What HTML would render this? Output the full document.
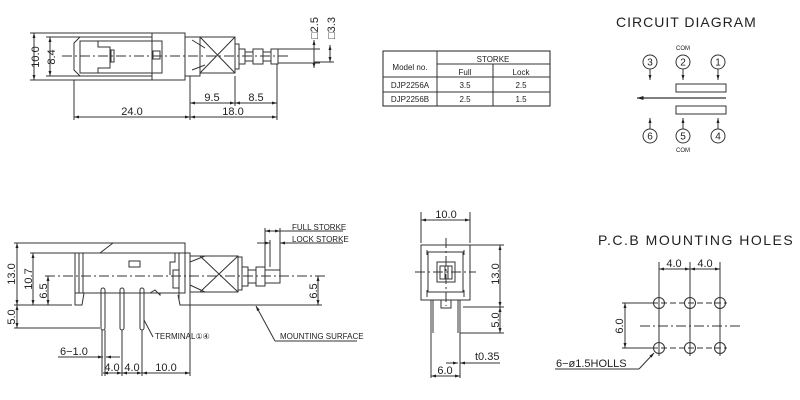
<!DOCTYPE html>
<html><head><style>
html,body{margin:0;padding:0;background:#fff;}
svg{display:block;font-family:"Liberation Sans",sans-serif;}
text{fill:#222;}
</style></head><body>
<svg width="800" height="400" viewBox="0 0 800 400" xmlns="http://www.w3.org/2000/svg">
<defs>
<marker id="a" viewBox="0 0 10 10" refX="10" refY="5" markerWidth="5" markerHeight="5" orient="auto-start-reverse"><path d="M0,2 L10,5 L0,8z" fill="#222"/></marker>
</defs>
<g stroke="#333" stroke-width="1" fill="none">
<!-- TOP VIEW -->
<line x1="30" y1="33" x2="152" y2="33"/><line x1="30" y1="80" x2="152" y2="80"/>
<line x1="34" y1="33" x2="34" y2="80" marker-start="url(#a)" marker-end="url(#a)"/>
<line x1="46" y1="37" x2="80" y2="37"/><line x1="46" y1="76" x2="80" y2="76"/>
<line x1="50" y1="37" x2="50" y2="76" marker-start="url(#a)" marker-end="url(#a)"/>
<path d="M80,37 L152,37 L152,76 L80,76 L74,70 L74,43 Z"/>
<rect x="80" y="41" width="82" height="32"/>
<path d="M98,41 L98,47 L110,47 L110,68 L98,68 L98,73"/>
<rect x="111" y="50" width="3" height="12"/>
<rect x="152" y="33" width="33" height="47"/>
<rect x="153" y="51" width="7" height="8"/>
<path d="M185,37 L200,37 L200,76 L185,76"/>
<path d="M200,37 L235,37 L235,73 L200,73 Z M200,37 L235,73 M235,37 L200,73"/>
<path d="M192,40 L205,48 M192,70 L205,65"/>
<rect x="235" y="44" width="4" height="25"/>
<rect x="239" y="49" width="6" height="15"/>
<rect x="245" y="52" width="8" height="9"/>
<rect x="253" y="49" width="10" height="15"/>
<rect x="263" y="52" width="8" height="9"/>
<rect x="271" y="49" width="7" height="15"/>
<line x1="278" y1="49" x2="320" y2="49"/><line x1="278" y1="63" x2="320" y2="63"/>
<line x1="62" y1="56" x2="290" y2="56" stroke-dasharray="10,3,2,3"/>
<line x1="314" y1="40" x2="314" y2="68" marker-start="url(#a)" marker-end="url(#a)"/>
<line x1="330" y1="45" x2="330" y2="62" marker-start="url(#a)" marker-end="url(#a)"/>
<line x1="314" y1="62" x2="334" y2="62"/>
<line x1="74" y1="80" x2="74" y2="120"/>
<line x1="190" y1="76" x2="190" y2="120"/>
<line x1="235" y1="76" x2="235" y2="106"/>
<line x1="277" y1="64" x2="277" y2="120"/>
<line x1="190" y1="103" x2="235" y2="103" marker-start="url(#a)" marker-end="url(#a)"/>
<line x1="235" y1="103" x2="277" y2="103" marker-start="url(#a)" marker-end="url(#a)"/>
<line x1="74" y1="117" x2="190" y2="117" marker-start="url(#a)" marker-end="url(#a)"/>
<line x1="190" y1="117" x2="277" y2="117" marker-start="url(#a)" marker-end="url(#a)"/>

<!-- TABLE -->
<rect x="383" y="51" width="167" height="55" stroke="#222"/>
<line x1="437" y1="64" x2="550" y2="64"/><line x1="383" y1="77" x2="550" y2="77"/>
<line x1="383" y1="92" x2="550" y2="92"/>
<line x1="437" y1="51" x2="437" y2="106"/><line x1="493" y1="64" x2="493" y2="106"/>

<!-- CIRCUIT -->
<circle cx="650" cy="62" r="7"/><circle cx="683" cy="62" r="7"/><circle cx="718" cy="62" r="7"/>
<circle cx="650" cy="136" r="7"/><circle cx="683" cy="136" r="7"/><circle cx="718" cy="136" r="7"/>
<line x1="650" y1="69" x2="650" y2="80" marker-end="url(#a)"/>
<line x1="683" y1="69" x2="683" y2="80" marker-end="url(#a)"/>
<line x1="718" y1="69" x2="718" y2="80" marker-end="url(#a)"/>
<line x1="650" y1="129" x2="650" y2="118" marker-end="url(#a)"/>
<line x1="683" y1="129" x2="683" y2="118" marker-end="url(#a)"/>
<line x1="718" y1="129" x2="718" y2="118" marker-end="url(#a)"/>
<rect x="676" y="84" width="50" height="8"/><rect x="676" y="106" width="50" height="8"/>
<line x1="726" y1="98" x2="637" y2="98" stroke-width="1.3" marker-end="url(#a)"/>

<!-- SIDE VIEW -->
<line x1="14" y1="243" x2="113" y2="243"/>
<line x1="17" y1="243" x2="17" y2="305" marker-start="url(#a)" marker-end="url(#a)"/>
<line x1="30" y1="253" x2="75" y2="253"/>
<line x1="33" y1="253" x2="33" y2="305" marker-start="url(#a)" marker-end="url(#a)"/>
<line x1="48" y1="276" x2="48" y2="305" marker-start="url(#a)" marker-end="url(#a)"/>
<line x1="14" y1="305" x2="72" y2="305"/>
<line x1="17" y1="305" x2="17" y2="328" marker-start="url(#a)" marker-end="url(#a)"/>
<line x1="14" y1="328" x2="100" y2="328"/>
<path d="M75,253 L100,253 L113,243 L185,243 L185,253"/>
<rect x="75" y="253" width="110" height="40"/>
<rect x="79" y="253" width="4" height="40"/>
<path d="M75,293 L75,305 L82,305 L84,293"/>
<rect x="129" y="261" width="11" height="6"/>
<path d="M165,253 L175,253 L175,262 L170,262 L170,275"/>
<rect x="173" y="270" width="6" height="18"/>
<path d="M150,293 L155,290 L160,295 L160,293"/>
<path d="M179,253 L179,300 M185,253 L190,253 L190,305 L180,305 L178,295"/>
<path d="M190,256 L238,256 L238,292 L190,292 Z M200,256 L238,292 M238,256 L200,292"/>
<path d="M190,262 L205,256 M190,285 L205,292"/>
<rect x="238" y="257" width="4" height="33"/>
<rect x="242" y="267" width="6" height="19"/>
<rect x="248" y="270" width="8" height="13"/>
<rect x="256" y="267" width="9" height="19"/>
<rect x="265" y="270" width="15" height="13"/>
<line x1="265" y1="228" x2="265" y2="270"/><line x1="270" y1="240" x2="270" y2="267"/>
<line x1="280" y1="228" x2="280" y2="270"/>
<line x1="265" y1="231" x2="280" y2="231" marker-start="url(#a)" marker-end="url(#a)"/>
<line x1="257" y1="243" x2="270" y2="243" marker-end="url(#a)"/>
<line x1="290" y1="243" x2="280" y2="243" marker-end="url(#a)"/>
<line x1="280" y1="231" x2="343" y2="231"/><line x1="290" y1="243" x2="343" y2="243"/>
<line x1="45" y1="276" x2="325" y2="276" stroke-dasharray="10,3,2,3"/>
<line x1="190" y1="305" x2="322" y2="305"/>
<line x1="318" y1="276" x2="318" y2="305" marker-start="url(#a)" marker-end="url(#a)"/>
<rect x="101" y="288" width="4" height="42" rx="2"/>
<rect x="120" y="288" width="4" height="42" rx="2"/>
<rect x="140" y="288" width="4" height="42" rx="2"/>
<line x1="144" y1="320" x2="153" y2="337"/>
<line x1="256" y1="306" x2="275" y2="341" marker-start="url(#a)"/>
<line x1="275" y1="341" x2="357" y2="341"/>
<line x1="58" y1="357" x2="100" y2="357"/><line x1="100" y1="357" x2="103" y2="357" marker-end="url(#a)"/>
<line x1="120" y1="357" x2="106" y2="357" marker-end="url(#a)"/>
<line x1="102" y1="330" x2="102" y2="376"/><line x1="105" y1="330" x2="105" y2="376"/>
<line x1="122" y1="330" x2="122" y2="376"/><line x1="142" y1="330" x2="142" y2="376"/>
<line x1="190" y1="305" x2="190" y2="376"/>
<line x1="103" y1="373" x2="122" y2="373" marker-start="url(#a)" marker-end="url(#a)"/>
<line x1="122" y1="373" x2="142" y2="373" marker-start="url(#a)" marker-end="url(#a)"/>
<line x1="142" y1="373" x2="190" y2="373" marker-start="url(#a)" marker-end="url(#a)"/>

<!-- FRONT VIEW -->
<line x1="421" y1="212" x2="421" y2="243"/><line x1="470" y1="212" x2="470" y2="243"/>
<line x1="421" y1="220" x2="470" y2="220" marker-start="url(#a)" marker-end="url(#a)"/>
<rect x="421" y="245" width="49" height="55"/>
<rect x="428" y="252" width="35" height="40"/>
<rect x="437" y="262" width="18" height="20"/>
<rect x="440" y="266" width="12" height="13"/>
<line x1="445" y1="266" x2="445" y2="279"/><line x1="448" y1="266" x2="448" y2="279"/>
<path d="M427,250 L427,255 M464,250 L464,255 M427,290 L427,297 M464,290 L464,297"/>
<line x1="415" y1="272" x2="476" y2="272" stroke-dasharray="10,3,2,3"/>
<line x1="446" y1="238" x2="446" y2="306" stroke-dasharray="10,3,2,3"/>
<rect x="441" y="300" width="10" height="8"/>
<line x1="431" y1="300" x2="431" y2="333"/><line x1="433" y1="300" x2="433" y2="333"/>
<line x1="458" y1="300" x2="458" y2="333"/><line x1="460" y1="300" x2="460" y2="333"/>
<line x1="470" y1="245" x2="504" y2="245"/><line x1="463" y1="307" x2="504" y2="307"/>
<line x1="460" y1="333" x2="504" y2="333"/>
<line x1="500" y1="245" x2="500" y2="307" marker-start="url(#a)" marker-end="url(#a)"/>
<line x1="500" y1="307" x2="500" y2="333" marker-start="url(#a)" marker-end="url(#a)"/>
<line x1="431" y1="333" x2="431" y2="378"/><line x1="460" y1="333" x2="460" y2="378"/>
<line x1="446" y1="363" x2="458" y2="363" marker-end="url(#a)"/>
<line x1="473" y1="363" x2="460" y2="363" marker-end="url(#a)"/>
<line x1="473" y1="363" x2="500" y2="363"/>
<line x1="431" y1="376" x2="460" y2="376" marker-start="url(#a)" marker-end="url(#a)"/>

<!-- PCB -->
<line x1="659" y1="262" x2="659" y2="356"/><line x1="690" y1="262" x2="690" y2="356"/><line x1="720" y1="262" x2="720" y2="356"/>
<line x1="659" y1="269" x2="690" y2="269" marker-start="url(#a)" marker-end="url(#a)"/>
<line x1="690" y1="269" x2="720" y2="269" marker-start="url(#a)" marker-end="url(#a)"/>
<line x1="622" y1="303" x2="652" y2="303"/><line x1="622" y1="348" x2="652" y2="348"/>
<line x1="625" y1="303" x2="625" y2="348" marker-start="url(#a)" marker-end="url(#a)"/>
<line x1="652" y1="303" x2="727" y2="303" stroke-dasharray="6,3"/>
<line x1="652" y1="348" x2="727" y2="348" stroke-dasharray="6,3"/>
<line x1="640" y1="326" x2="740" y2="326" stroke-dasharray="10,3,2,3"/>
<circle cx="659" cy="303" r="5.5"/><circle cx="690" cy="303" r="5.5"/><circle cx="720" cy="303" r="5.5"/>
<circle cx="659" cy="348" r="5.5"/><circle cx="690" cy="348" r="5.5"/><circle cx="720" cy="348" r="5.5"/>
<line x1="555" y1="369" x2="639" y2="369"/>
<line x1="639" y1="369" x2="654" y2="353" marker-end="url(#a)"/>
</g>

<g font-size="11">
<text transform="translate(39,57) rotate(-90)" text-anchor="middle">10.0</text>
<text transform="translate(55,57) rotate(-90)" text-anchor="middle">8.4</text>
<text x="212" y="101" text-anchor="middle">9.5</text>
<text x="256" y="101" text-anchor="middle">8.5</text>
<text x="132" y="115" text-anchor="middle">24.0</text>
<text x="233" y="115" text-anchor="middle">18.0</text>
<text transform="translate(318,28) rotate(-90)" text-anchor="middle">□2.5</text>
<text transform="translate(335,28) rotate(-90)" text-anchor="middle">□3.3</text>

<text transform="translate(15,274) rotate(-90)" text-anchor="middle">13.0</text>
<text transform="translate(32,279) rotate(-90)" text-anchor="middle">10.7</text>
<text transform="translate(47,291) rotate(-90)" text-anchor="middle">6.5</text>
<text transform="translate(15,317) rotate(-90)" text-anchor="middle">5.0</text>
<text transform="translate(317,291) rotate(-90)" text-anchor="middle">6.5</text>
<text x="60" y="355">6−1.0</text>
<text x="112" y="371" text-anchor="middle">4.0</text>
<text x="132" y="371" text-anchor="middle">4.0</text>
<text x="166" y="371" text-anchor="middle">10.0</text>

<text x="446" y="218" text-anchor="middle">10.0</text>
<text transform="translate(499,274) rotate(-90)" text-anchor="middle">13.0</text>
<text transform="translate(499,320) rotate(-90)" text-anchor="middle">5.0</text>
<text x="475" y="360">t0.35</text>
<text x="445" y="374" text-anchor="middle">6.0</text>

<text x="674" y="267" text-anchor="middle">4.0</text>
<text x="705" y="267" text-anchor="middle">4.0</text>
<text transform="translate(623,326) rotate(-90)" text-anchor="middle">6.0</text>
<text x="556" y="367">6−ø1.5HOLLS</text>
</g>
<g font-size="8">
<text x="292" y="230">FULL STORKE</text>
<text x="292" y="242">LOCK STORKE</text>
<text x="155" y="339">TERMINAL①④</text>
<text x="280" y="339">MOUNTING SURFACE</text>
<text x="410" y="70" text-anchor="middle">Model no.</text>
<text x="493" y="62" text-anchor="middle">STORKE</text>
<text x="465" y="75" text-anchor="middle">Full</text>
<text x="521" y="75" text-anchor="middle">Lock</text>
<text x="410" y="88" text-anchor="middle">DJP2256A</text>
<text x="465" y="88" text-anchor="middle">3.5</text>
<text x="521" y="88" text-anchor="middle">2.5</text>
<text x="410" y="102" text-anchor="middle">DJP2256B</text>
<text x="465" y="102" text-anchor="middle">2.5</text>
<text x="521" y="102" text-anchor="middle">1.5</text>
<text x="650" y="65.5" text-anchor="middle" font-size="10">3</text>
<text x="683" y="65.5" text-anchor="middle" font-size="10">2</text>
<text x="718" y="65.5" text-anchor="middle" font-size="10">1</text>
<text x="650" y="139.5" text-anchor="middle" font-size="10">6</text>
<text x="683" y="139.5" text-anchor="middle" font-size="10">5</text>
<text x="718" y="139.5" text-anchor="middle" font-size="10">4</text>
<text x="683" y="50" text-anchor="middle" font-size="6">COM</text>
<text x="683" y="152" text-anchor="middle" font-size="6">COM</text>
</g>
<text x="616" y="27" font-size="14" letter-spacing="1">CIRCUIT DIAGRAM</text>
<text x="598" y="245" font-size="14" letter-spacing="1.5">P.C.B MOUNTING HOLES</text>
</svg>
</body></html>
